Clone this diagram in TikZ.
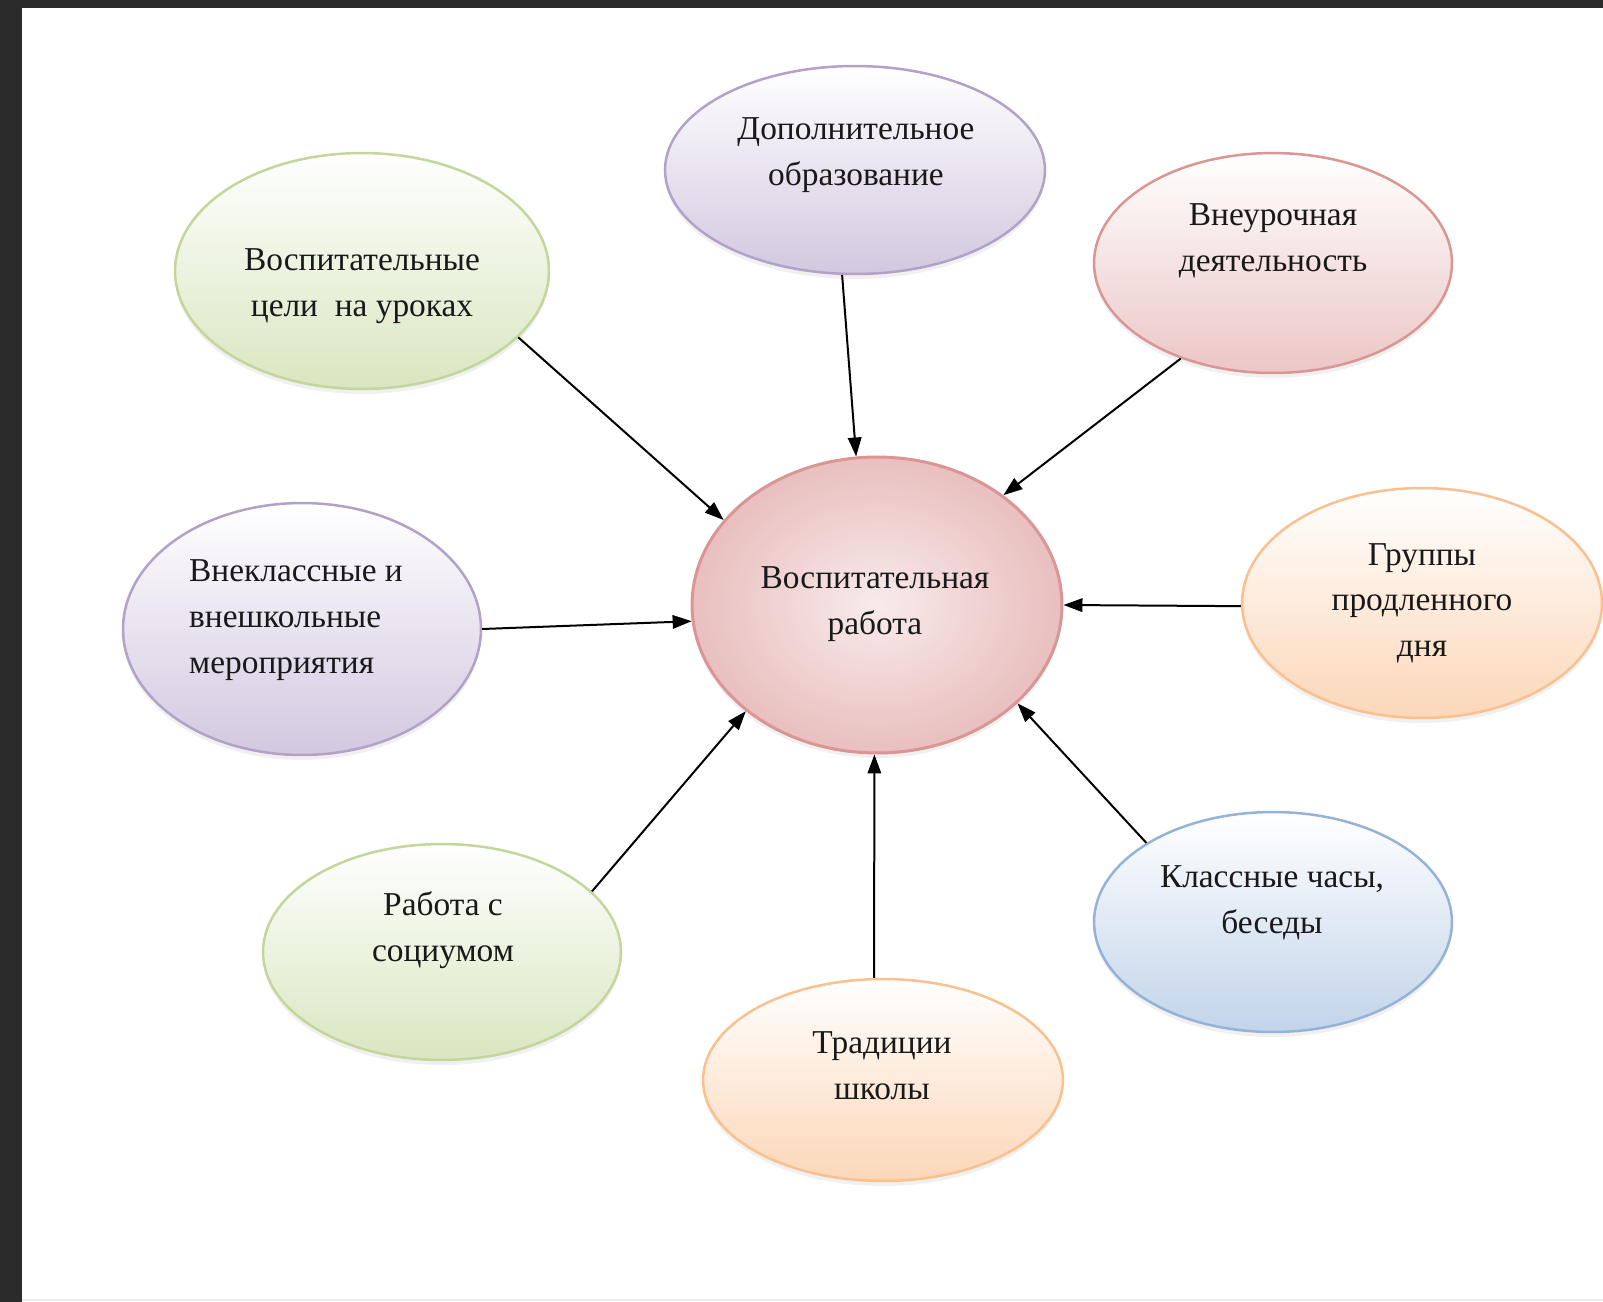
\documentclass[tikz,border=0pt]{standalone}
\usepackage{fontspec}
\setmainfont{Liberation Serif}
\usetikzlibrary{arrows.meta,shapes.geometric,shadows}

\definecolor{grline}{HTML}{C3D69B}
\definecolor{grfill}{HTML}{D9E6C0}
\definecolor{puline}{HTML}{B3A2C7}
\definecolor{pufill}{HTML}{D2C8E0}
\definecolor{rdline}{HTML}{D99694}
\definecolor{rdfill}{HTML}{ECC6C6}
\definecolor{orline}{HTML}{FAC090}
\definecolor{orfill}{HTML}{FCD7B8}
\definecolor{blline}{HTML}{95B3D7}
\definecolor{blfill}{HTML}{C2D4EA}
\definecolor{frame}{HTML}{2B2B2B}

\begin{document}
\begin{tikzpicture}[x=0.02cm,y=-0.02cm,->,>={Triangle[length=0.38cm,width=0.27cm]},
    line width=0.04cm,
    bubble/.style={ellipse,draw=#1line,line width=0.05cm,top color=white,bottom color=#1fill,
      drop shadow={opacity=0.12,shadow xshift=0cm,shadow yshift=-0.1cm}},
    lbl/.style={font=\fontsize{19pt}{26pt}\selectfont,align=center,text=black!90}]

  \useasboundingbox (0,0) rectangle (1603,1302);
  \fill[-,frame] (0,0) rectangle (22,1302);
  \fill[-,frame] (0,0) rectangle (1603,8);
  \draw[-,black!8,line width=0.04cm] (22,1300) -- (1603,1300);

  \node[bubble=pu, minimum width=7.6cm, minimum height=4.16cm] (dop) at (855,170) {};
  \node[bubble=gr, minimum width=7.48cm, minimum height=4.72cm] (vosp) at (362,271) {};
  \node[bubble=rd, minimum width=7.16cm, minimum height=4.4cm] (vneur) at (1273,263) {};
  \node[bubble=pu, minimum width=7.16cm, minimum height=5.04cm] (vnekl) at (302,629) {};
  \node[bubble=or, minimum width=7.2cm, minimum height=4.6cm] (grup) at (1422,603) {};
  \node[bubble=gr, minimum width=7.16cm, minimum height=4.32cm] (rab) at (442,952) {};
  \node[bubble=or, minimum width=7.2cm, minimum height=4.04cm] (trad) at (883,1080) {};
  \node[bubble=bl, minimum width=7.16cm, minimum height=4.4cm] (klass) at (1273,922) {};
  \node[ellipse, draw=rdline, line width=0.06cm, inner color=rdfill!35, outer color=rdfill!85!rdline,
    minimum width=7.4cm, minimum height=5.92cm,
    drop shadow={opacity=0.12,shadow xshift=0cm,shadow yshift=-0.1cm}] (work) at (877,605) {};

  \node[lbl] (doptxt) at (856,155) {Дополнительное\\образование};
  \node[lbl] (vosptxt) at (362,286) {Воспитательные\\цели\ \ на уроках};
  \node[lbl] (vneurtxt) at (1273,241) {Внеурочная\\деятельность};
  \node[lbl, align=left] (vnekltxt) at (296,620) {Внеклассные и\\внешкольные\\мероприятия};
  \node[lbl] (gruptxt) at (1422,603) {Группы\\продленного\\дня};
  \node[lbl] (worktxt) at (875,604) {Воспитательная\\работа};
  \node[lbl] (rabtxt) at (443,930) {Работа с\\социумом};
  \node[lbl] (tradtxt) at (882,1066) {Традиции\\школы};
  \node[lbl] (klasstxt) at (1272,903) {Классные часы,\\беседы};

  \path
  (vosp.337) edge (work.151)
  (dop.263) edge (work.98)
  (vneur.226) edge (work.41)
  (vnekl.0) edge (work.185)
  (grup.181) edge (work.0)
  (rab.22) edge (work.219)
  (trad.95) edge (work.269)
  (klass.148) edge (work.325);

\end{tikzpicture}
\end{document}
